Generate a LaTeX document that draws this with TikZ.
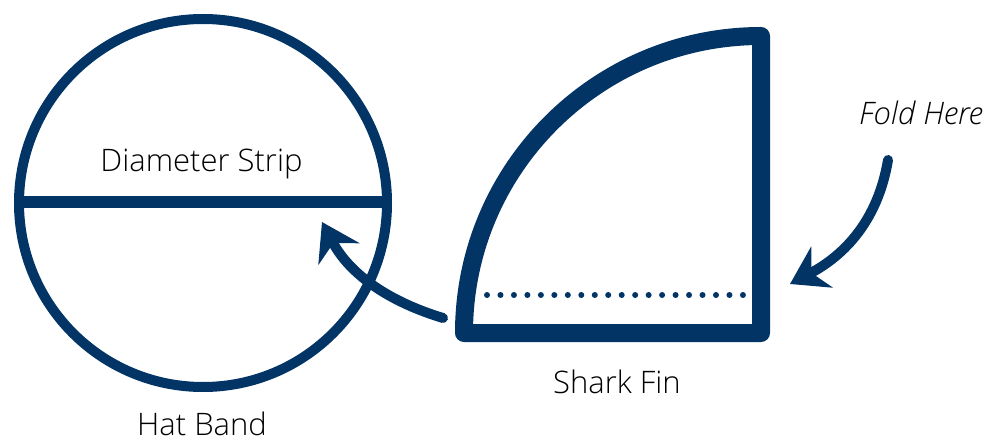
\documentclass[tikz,border=0pt]{standalone}
\usepackage{fontspec}
\setmainfont{Open Sans Light}[ItalicFont={Open Sans Light Italic}]
\usetikzlibrary{arrows.meta}
\definecolor{navy}{RGB}{2,52,102}
\begin{document}
\begin{tikzpicture}[x=1pt,y=-1pt,>={Stealth[length=36pt,width=46pt,inset=12pt]},
  lbl/.style={font=\fontsize{31}{34}\selectfont,inner sep=0pt,anchor=base},
  brush/.style={navy,line width=10pt,line cap=round,->}]
\useasboundingbox (0,0) rectangle (990,438);
% left: hat band with its strip
\draw[navy,line width=10pt] (203,203) circle (184pt);
\draw[navy,line width=12pt] (14,202) -- (392,202);
\node[lbl] (strip) at (201.5,172) {Diameter Strip};
\node[lbl] (band) at (202,435) {Hat Band};
% right: shark fin
\draw[navy,line width=18pt,line join=round] (464,333) arc[start angle=180,end angle=90,radius=297pt] -- (761,333) -- cycle;
\foreach \i in {0,...,19}
  \fill[navy] ({487+13.47*\i},295) circle (3pt);
\node[lbl] (fin) at (617,393) {Shark Fin};
\node[lbl,font=\fontsize{31}{34}\selectfont\itshape] (fold) at (921,125) {Fold Here};
% arrows
\coordinate (fintail) at (443,318);
\coordinate (bandtip) at (322,222);
\coordinate (foldtail) at (888,160);
\coordinate (foldtip) at (790,284);
\draw[brush] (fintail) .. controls (390,302) and (350,275) .. (bandtip);
\draw[brush] (foldtail) .. controls (878,220) and (845,255) .. (foldtip);
\end{tikzpicture}
\end{document}
